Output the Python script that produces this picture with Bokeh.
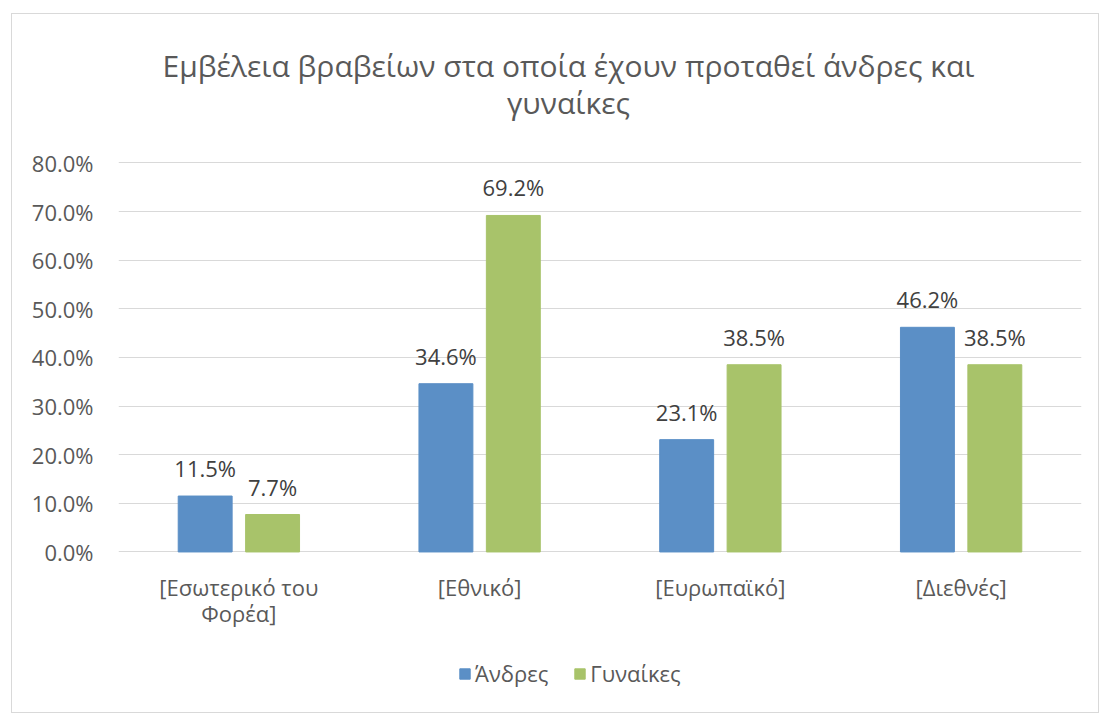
from bokeh.plotting import figure
from bokeh.models import (ColumnDataSource, FactorRange, LabelSet, Label, Legend, LegendItem,
                          NumeralTickFormatter, FixedTicker, Range1d)
from bokeh.core.properties import value
from bokeh.transform import dodge
from bokeh.embed import file_html
from bokeh.resources import INLINE

categories = ["[Εσωτερικό του\nΦορέα]", "[Εθνικό]", "[Ευρωπαϊκό]", "[Διεθνές]"]
andres = [0.115, 0.346, 0.231, 0.462]
gynaikes = [0.077, 0.692, 0.385, 0.385]
series_names = ["Άνδρες", "Γυναίκες"]
y_ticks = [0.0, 0.1, 0.2, 0.3, 0.4, 0.5, 0.6, 0.7, 0.8]
title_lines = ["Εμβέλεια βραβείων στα οποία έχουν προταθεί άνδρες και", "γυναίκες"]

BLUE = "#5b8fc6"
GREEN = "#a8c36a"
FONT = "Open Sans"
TXT = "#595959"

cat_line1 = [c.split("\n")[0] for c in categories]
cat_line2 = [c.split("\n")[1] if "\n" in c else "" for c in categories]

src = ColumnDataSource(dict(
    cat=categories,
    zero=[0.0] * len(categories),
    line1=cat_line1,
    line2=cat_line2,
    andres=andres,
    gynaikes=gynaikes,
    andres_lbl=[f"{v*100:.1f}%" for v in andres],
    gynaikes_lbl=[f"{v*100:.1f}%" for v in gynaikes],
))

# frame spans the whole chart area; the value axis 0..80% sits inside it
p = figure(x_range=FactorRange(*categories, range_padding=0),
           y_range=Range1d(-0.3137, 1.0847),
           width=1088, height=700, output_backend="svg", toolbar_location=None,
           x_axis_location=None,
           min_border_left=106, min_border_right=19,
           min_border_top=10, min_border_bottom=10)
p.margin = (13, 0, 0, 11)
p.styles = {"border": "1px solid #d9d9d9"}
p.outline_line_color = None

# title (two centred lines)
for txt, ys in zip(title_lines, (639, 602)):
    p.add_layout(Label(x=450, y=ys, x_units="screen", y_units="screen", text=txt,
                       text_align="center", text_baseline="middle",
                       text_font=FONT, text_font_size="30px", text_color=TXT))

r1 = p.vbar(x=dodge("cat", -0.14, range=p.x_range), top="andres", width=0.224,
            source=src, fill_color=BLUE, line_color=BLUE)
r2 = p.vbar(x=dodge("cat", 0.14, range=p.x_range), top="gynaikes", width=0.224,
            source=src, fill_color=GREEN, line_color=GREEN)

for col, off in (("andres", -0.14), ("gynaikes", 0.14)):
    p.add_layout(LabelSet(x=dodge("cat", off, range=p.x_range), y=col, text=col + "_lbl",
                          source=src, text_align="center", text_baseline="bottom",
                          y_offset=13, text_font=value(FONT), text_font_size=value("22px"),
                          text_color=value("#404040")))

# category labels under the baseline (each line centred)
for col, yo in (("line1", -20), ("line2", -46)):
    p.add_layout(LabelSet(x="cat", y="zero", text=col, source=src,
                          text_align="center", text_baseline="top", y_offset=yo,
                          text_font=value(FONT), text_font_size=value("22px"),
                          text_color=value(TXT)))

p.yaxis.ticker = FixedTicker(ticks=y_ticks)
p.yaxis.formatter = NumeralTickFormatter(format="0.0%")
p.yaxis.axis_line_color = None
p.yaxis.major_tick_line_color = None
p.yaxis.minor_tick_line_color = None
p.yaxis.major_label_text_font = FONT
p.yaxis.major_label_text_font_size = "22px"
p.yaxis.major_label_text_color = TXT
p.yaxis.major_label_standoff = 19

p.xgrid.grid_line_color = None
p.ygrid.grid_line_color = "#d9d9d9"
p.ygrid.ticker = FixedTicker(ticks=y_ticks)

legend = Legend(items=[LegendItem(label=series_names[0], renderers=[r1]),
                       LegendItem(label=series_names[1], renderers=[r2])],
                orientation="horizontal", location=(340, 16),
                glyph_width=13, glyph_height=13, spacing=25, padding=0, margin=0,
                label_standoff=4, label_height=26,
                label_text_font=FONT, label_text_font_size="22px",
                label_text_color=TXT, border_line_color=None,
                background_fill_alpha=0)
p.add_layout(legend, "center")

open("out.html", "w").write(file_html(p, INLINE))
